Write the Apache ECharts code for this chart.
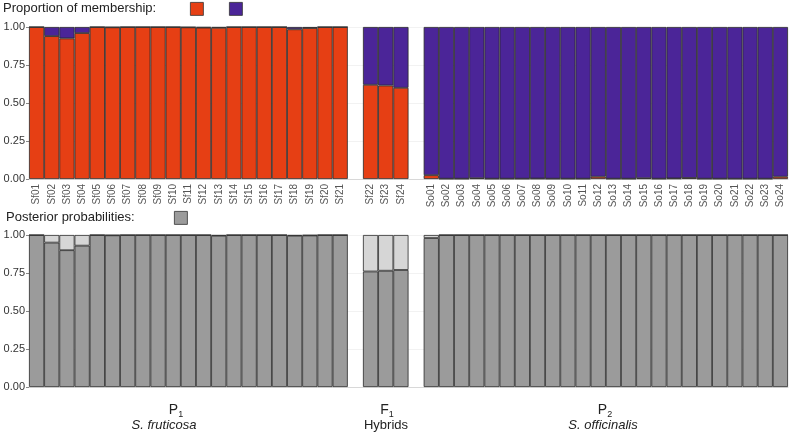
<!DOCTYPE html>
<html><head><meta charset="utf-8">
<script src="https://cdn.jsdelivr.net/npm/echarts@6/dist/echarts.min.js"></script>
<style>html,body{margin:0;padding:0;background:#fff}#c{width:790px;height:433px}</style>
</head><body><div id="c"></div>
<script>
// Individuals (empty strings are the blank spacer slots between groups)
const categories = ['Sf01','Sf02','Sf03','Sf04','Sf05','Sf06','Sf07','Sf08','Sf09','Sf10','Sf11','Sf12','Sf13','Sf14','Sf15','Sf16','Sf17','Sf18','Sf19','Sf20','Sf21','',
  'Sf22','Sf23','Sf24','',
  'So01','So02','So03','So04','So05','So06','So07','So08','So09','So10','So11','So12','So13','So14','So15','So16','So17','So18','So19','So20','So21','So22','So23','So24'];
// Proportion of membership: S. fruticosa cluster (orange)
const fruticosaShare = [1.00,0.94,0.925,0.96,1.00,0.998,1.00,1.00,1.00,1.00,0.998,0.996,0.995,1.00,1.00,1.00,1.00,0.985,0.993,1.00,1.00,null,
  0.62,0.615,0.60,null,
  0.025,0.002,0.002,0.005,0.002,0.002,0.002,0.003,0.002,0.002,0.002,0.015,0.002,0.002,0.005,0.002,0.004,0.007,0.002,0.002,0.002,0.002,0.002,0.015];
// Proportion of membership: S. officinalis cluster (purple)
const officinalisShare = [0.00,0.06,0.075,0.04,0.00,0.002,0.00,0.00,0.00,0.00,0.002,0.004,0.005,0.00,0.00,0.00,0.00,0.015,0.007,0.00,0.00,null,
  0.38,0.385,0.40,null,
  0.975,0.998,0.998,0.995,0.998,0.998,0.998,0.997,0.998,0.998,0.998,0.985,0.998,0.998,0.995,0.998,0.996,0.993,0.998,0.998,0.998,0.998,0.998,0.985];
// Posterior probabilities of assigned class (dark grey) and remainder (light grey)
const posteriorAssigned = [1.00,0.95,0.90,0.93,1.00,0.998,1.00,1.00,1.00,1.00,1.00,1.00,0.995,1.00,1.00,1.00,1.00,0.995,0.997,1.00,1.00,null,
  0.76,0.765,0.77,null,
  0.98,1.00,1.00,1.00,1.00,1.00,1.00,1.00,1.00,1.00,1.00,1.00,1.00,1.00,1.00,1.00,1.00,1.00,1.00,1.00,1.00,1.00,1.00,1.00];
const posteriorOther = [0.00,0.05,0.10,0.07,0.00,0.002,0.00,0.00,0.00,0.00,0.00,0.00,0.005,0.00,0.00,0.00,0.00,0.005,0.003,0.00,0.00,null,
  0.24,0.235,0.23,null,
  0.02,0.00,0.00,0.00,0.00,0.00,0.00,0.00,0.00,0.00,0.00,0.00,0.00,0.00,0.00,0.00,0.00,0.00,0.00,0.00,0.00,0.00,0.00,0.00];
const yTicks = [0, 0.25, 0.5, 0.75, 1];

const FONT = '"Liberation Sans", Arial, sans-serif';
const ORANGE = '#e63f14', PURPLE = '#4b2598', GREY = '#9b9b9b', LIGHT = '#d6d6d6';
const chart = echarts.init(document.getElementById('c'), null, {renderer:'canvas'});

function yAxis(gi){
  return {type:'value', gridIndex:gi, min:yTicks[0], max:yTicks[yTicks.length-1], interval:yTicks[1]-yTicks[0],
    axisLine:{show:false}, axisTick:{show:true, length:3, lineStyle:{color:'#888'}},
    splitLine:{show:true, lineStyle:{color:'#f2f2f2', width:1}},
    axisLabel:{fontFamily:FONT, fontSize:11, color:'#333', margin:4,
      formatter:v=>v.toFixed(2)}};
}
function xAxis(gi, showLabels){
  return {type:'category', gridIndex:gi, data:categories,
    axisLine:{show:true, lineStyle:{color:'#d8d8d8'}}, axisTick:{show:false},
    axisLabel:{show:showLabels, rotate:90, interval:0, fontFamily:FONT, fontSize:10, color:'#555', margin:5}};
}
function bar(name, data, color, gi){
  return {name, type:'bar', stack:'s'+gi, xAxisIndex:gi, yAxisIndex:gi, data,
    barCategoryGap:'0%', barGap:'0%', silent:true,
    itemStyle:{color, borderColor:'#2a2a2a', borderWidth:0.8}};
}
const rich = {m:{font:'14px '+FONT, fill:'#222'}, s:{font:'9px '+FONT, fill:'#222', padding:[9,0,0,0]}};

chart.setOption({
  animation:false,
  grid:[{left:29, right:2, top:27, height:152},{left:29, right:2, top:235, height:152}],
  xAxis:[xAxis(0,true), xAxis(1,false)],
  yAxis:[yAxis(0), yAxis(1)],
  series:[
    bar('S. fruticosa', fruticosaShare, ORANGE, 0),
    bar('S. officinalis', officinalisShare, PURPLE, 0),
    bar('Assigned', posteriorAssigned, GREY, 1),
    bar('Other', posteriorOther, LIGHT, 1)
  ],
  graphic:[
    {type:'text', left:3, top:2, style:{text:'Proportion of membership:', font:'13px '+FONT, fill:'#222'}},
    {type:'rect', left:190, top:2, shape:{width:13, height:13}, style:{fill:ORANGE, stroke:'#333', lineWidth:0.8}},
    {type:'rect', left:229, top:2, shape:{width:13, height:13}, style:{fill:PURPLE, stroke:'#333', lineWidth:0.8}},
    {type:'text', left:6, top:211, style:{text:'Posterior probabilities:', font:'13px '+FONT, fill:'#222'}},
    {type:'rect', left:174, top:211, shape:{width:13, height:13}, style:{fill:GREY, stroke:'#333', lineWidth:0.8}},
    {type:'text', x:176, y:401, style:{text:'{m|P}{s|1}', align:'center', rich}},
    {type:'text', x:164, y:419, style:{text:'S. fruticosa', align:'center', font:'italic 13px '+FONT, fill:'#222'}},
    {type:'text', x:387, y:401, style:{text:'{m|F}{s|1}', align:'center', rich}},
    {type:'text', x:386, y:419, style:{text:'Hybrids', align:'center', font:'13px '+FONT, fill:'#222'}},
    {type:'text', x:605, y:401, style:{text:'{m|P}{s|2}', align:'center', rich}},
    {type:'text', x:603, y:419, style:{text:'S. officinalis', align:'center', font:'italic 13px '+FONT, fill:'#222'}}
  ]
});
</script></body></html>
